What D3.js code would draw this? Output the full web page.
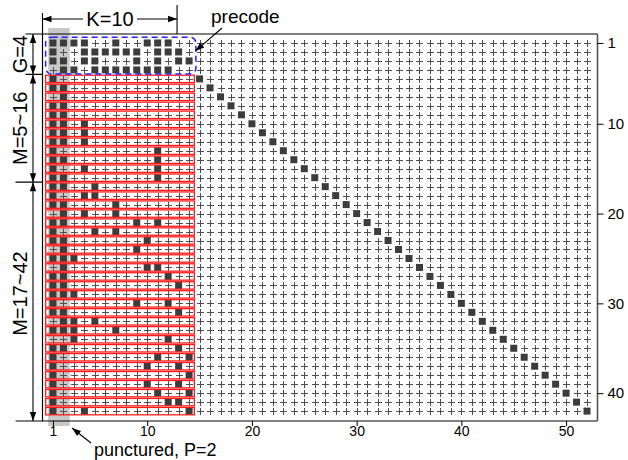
<!DOCTYPE html>
<html>
<head>
<meta charset="utf-8">
<script src="https://cdn.jsdelivr.net/npm/d3@7"></script>
<style>
  body { margin: 0; background: #fff; }
  svg text { font-family: "Liberation Sans", Arial, Helvetica, sans-serif; }
</style>
</head>
<body>
<svg id="chart" width="628" height="460"></svg>
<script>
// ---- matrix size and axis ticks ----
const nCols = 52;
const nRows = 42;
const xTicks = [1, 10, 20, 30, 40, 50];
const yTicks = [1, 10, 20, 30, 40];

// ---- nonzero entries: precode rows 1..4 (columns holding a 1) ----
const precodeRows = [
  [1, 2, 3, 4, 7, 10, 11, 12],
  [1, 4, 5, 6, 7, 8, 9, 11, 12, 13],
  [1, 2, 4, 5, 9, 11, 13, 14],
  [2, 3, 5, 6, 7, 8, 9, 10, 11, 12]
];

// ---- nonzero entries: check rows 5..42 (columns holding a 1) ----
const checkRows = [
  [1, 15],
  [1, 2, 16],
  [2, 17],
  [1, 2, 18],
  [1, 2, 19],
  [1, 2, 4, 20],
  [1, 2, 4, 21],
  [1, 2, 4, 22],
  [1, 11, 23],
  [1, 2, 11, 24],
  [1, 4, 11, 25],
  [1, 2, 11, 26],
  [1, 2, 5, 27],
  [1, 4, 5, 28],
  [1, 2, 7, 29],
  [2, 4, 7, 30],
  [1, 2, 9, 11, 31],
  [1, 5, 7, 32],
  [1, 2, 10, 33],
  [2, 9, 34],
  [1, 2, 3, 35],
  [2, 10, 11, 36],
  [1, 2, 12, 37],
  [1, 2, 13, 38],
  [1, 2, 3, 39],
  [1, 9, 12, 40],
  [1, 2, 13, 41],
  [2, 3, 5, 42],
  [1, 2, 3, 7, 43],
  [3, 12, 44],
  [1, 2, 13, 45],
  [1, 11, 14, 46],
  [1, 10, 13, 47],
  [1, 14, 48],
  [1, 10, 13, 49],
  [1, 11, 14, 50],
  [1, 12, 13, 51],
  [1, 4, 14, 52]
];

// ---- annotation texts ----
const labelK = "K=10";
const labelPrecode = "precode";
const labelPunct = "punctured, P=2";
const sideLabels = ["G=4", "M=5~16", "M=17~42"];
// row groups that the side brackets span (first row, last row)
const sideGroups = [[1, 4], [5, 16], [17, 42]];

// ---- layout ----
const svg = d3.select("#chart");
const x = d3.scaleLinear().domain([0, 53]).range([42.5, 597.5]);
const y = d3.scaleLinear().domain([0, 43.1]).range([34, 421]);
const rh = y(1) - y(0);

const allRows = precodeRows.concat(checkRows);
const cells = [];
allRows.forEach((cols, i) => {
  const set = new Set(cols);
  for (let c = 1; c <= nCols; c++) cells.push({ r: i + 1, c: c, v: set.has(c) ? 1 : 0 });
});

// punctured columns band (columns 1-2)
svg.append("rect")
  .attr("x", x(0.55)).attr("y", 28)
  .attr("width", x(2.6) - x(0.55)).attr("height", 426 - 28)
  .attr("fill", "#c8c8c8");

// zero entries as "+" marks
const zeros = svg.append("g").attr("stroke", "#4e4e4e").attr("stroke-width", 1);
zeros.selectAll("path").data(cells.filter(d => !d.v)).join("path")
  .attr("d", d => {
    const cx = Math.round(x(d.c)) + 0.5, cy = Math.round(y(d.r)) + 0.5;
    return `M${cx - 3.5},${cy}H${cx + 3.5}M${cx},${cy - 3.5}V${cy + 3.5}`;
  });

// nonzero entries as filled squares
svg.append("g").selectAll("rect").data(cells.filter(d => d.v)).join("rect")
  .attr("x", d => x(d.c) - 3.5).attr("y", d => y(d.r) - 3.5)
  .attr("width", 7).attr("height", 7)
  .attr("fill", "#3c3c3c");

// red outline around each check row (columns 1..14)
svg.append("g").selectAll("rect").data(checkRows.map((_, i) => i + 5)).join("rect")
  .attr("x", x(0.3)).attr("y", r => y(r - 0.5) + 0.8)
  .attr("width", x(14.5) - x(0.3)).attr("height", rh - 1.6)
  .attr("fill", "none").attr("stroke", "#ff1a1a").attr("stroke-width", 1.3);

// blue dashed outline around the precode block
svg.append("rect")
  .attr("x", x(0.3)).attr("y", y(0.35))
  .attr("width", x(14.65) - x(0.3)).attr("height", y(4.45) - y(0.35))
  .attr("rx", 6).attr("ry", 6)
  .attr("fill", "none").attr("stroke", "#1f1fff").attr("stroke-width", 1.5)
  .attr("stroke-dasharray", "6,4");

// frame
const fx0 = x(0), fx1 = x(53), fy0 = y(0), fy1 = y(43.1);
svg.append("path")
  .attr("d", `M${fx0},${fy0}V${fy1}M${fx0 - 17},${fy0}H${fx1}M${fx0 - 27},${fy1}H${fx1}`)
  .attr("stroke", "#000").attr("stroke-width", 1.2).attr("fill", "none");
svg.append("path")
  .attr("d", `M${fx1},${fy0}V${fy1}`)
  .attr("stroke", "#555").attr("stroke-width", 1.6);

// axes
const axR = svg.append("g").attr("transform", `translate(${fx1},0)`)
  .call(d3.axisRight(y).tickValues(yTicks).tickSize(6).tickPadding(4));
const axB = svg.append("g").attr("transform", `translate(0,${fy1})`)
  .call(d3.axisBottom(x).tickValues(xTicks).tickSize(5).tickPadding(0));
axR.selectAll("text").attr("font-size", 15);
axB.selectAll("text").attr("font-size", 14);
[axR, axB].forEach(a => {
  a.select(".domain").remove();
  a.selectAll("text").attr("fill", "#000")
    .style("font-family", '"Liberation Sans", Arial, sans-serif');
  a.selectAll("line").attr("stroke", "#000");
});

// ---- annotation helpers ----
const ann = svg.append("g");
function head(x1, y1, x2, y2) {
  const a = Math.atan2(y2 - y1, x2 - x1), L = 9, W = 3.2;
  const bx = x2 - L * Math.cos(a), by = y2 - L * Math.sin(a);
  const px = -Math.sin(a) * W, py = Math.cos(a) * W;
  ann.append("path")
    .attr("d", `M${x2},${y2}L${bx + px},${by + py}L${bx - px},${by - py}Z`)
    .attr("fill", "#000");
}
function arrow(x1, y1, x2, y2) {
  ann.append("line").attr("x1", x1).attr("y1", y1).attr("x2", x2).attr("y2", y2)
    .attr("stroke", "#000").attr("stroke-width", 1.1);
  head(x1, y1, x2, y2);
}

// K=10 bracket above the matrix
const kRight = x(12.85), kY = 19;
ann.append("path").attr("d", `M${fx0},13V${fy0}M${kRight},5V${fy0}`)
  .attr("stroke", "#000").attr("stroke-width", 1.1);
arrow(83, kY, fx0, kY);
arrow(137, kY, kRight, kY);
ann.append("text").attr("x", 110).attr("y", 26).attr("text-anchor", "middle")
  .attr("font-size", 20).text(labelK);

// precode label
ann.append("text").attr("x", 211).attr("y", 23).attr("font-size", 19).text(labelPrecode);
arrow(222, 28, x(14.6), y(1.9));

// punctured label
ann.append("text").attr("x", 94).attr("y", 455.5).attr("font-size", 18).text(labelPunct);
arrow(91, 443, 72, 428);

// row-group brackets on the left
const bx = 33;
ann.append("path")
  .attr("d", `M${fx0 - 17},${y(4.5)}H${fx0}M${fx0 - 27},${y(16.5)}H${fx0}`)
  .attr("stroke", "#000").attr("stroke-width", 1.1);
sideGroups.forEach((g, i) => {
  const top = g[0] === 1 ? fy0 : y(g[0] - 0.5);
  const bot = g[1] === nRows ? fy1 : y(g[1] + 0.5);
  const mid = (top + bot) / 2;
  arrow(bx, mid, bx, top);
  arrow(bx, mid, bx, bot);
  ann.append("text")
    .attr("transform", `translate(27,${mid - (i === 2 ? 8 : 0)}) rotate(-90)`)
    .attr("text-anchor", "middle").attr("font-size", 20)
    .text(sideLabels[i]);
});
</script>
</body>
</html>
